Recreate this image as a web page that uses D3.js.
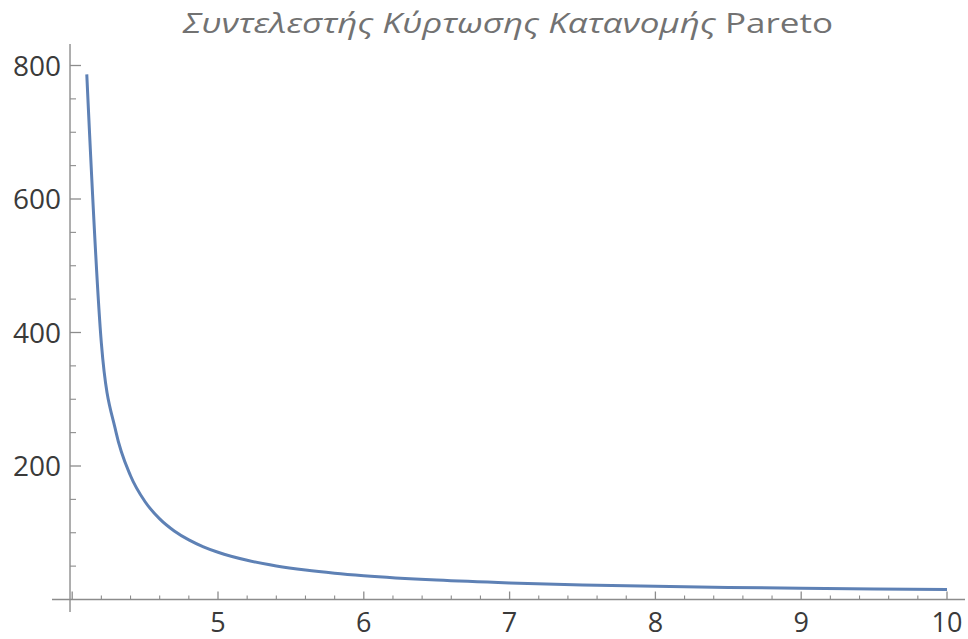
<!DOCTYPE html>
<html>
<head>
<meta charset="utf-8">
<script src="https://cdn.jsdelivr.net/npm/d3@7"></script>
<style>
  html, body { margin: 0; padding: 0; background: #fff; }
  svg { display: block; }
</style>
</head>
<body>
<svg id="chart" width="968" height="639"></svg>
<script>
// Shape parameter α and the excess kurtosis of the Pareto distribution
const alphaValues = [4.1, 4.2, 4.3, 4.4, 4.5, 4.6, 4.7, 4.8, 4.9, 5.0,
                     5.2, 5.4, 5.6, 5.8, 6.0, 6.5, 7.0, 7.5, 8.0, 8.5, 9.0, 9.5, 10.0];
const kurtosisValues = [786.7, 384.1, 251.2, 185.4, 146.4, 120.8, 102.7, 89.3, 78.95, 70.8,
                        58.76, 50.34, 44.14, 39.40, 35.67, 29.10, 24.86, 21.90, 19.73, 18.06, 16.76, 15.70, 14.83];
const xMajorTicks = [5, 6, 7, 8, 9, 10];
const yMajorTicks = [200, 400, 600, 800];
const titleGreek = "Συντελεστής Κύρτωσης Κατανομής";
const titleLatin = "Pareto";

const svg = d3.select("#chart");
const font = "'Open Sans', 'DejaVu Sans', sans-serif";
const axisColor = "#8c8c8c";
const labelColor = "#3a3a3a";

// scales: 4 → 72, 10 → 947 ; 0 → 599.5, 800 → 65.5
const x = d3.scaleLinear().domain([4, 10]).range([72.2, 947]);
const y = d3.scaleLinear().domain([0, 800]).range([599.5, 65.5]);

const axisX0 = x(3.985);

// axis lines
svg.append("line")
  .attr("x1", 52).attr("x2", 965)
  .attr("y1", y(0)).attr("y2", y(0))
  .attr("stroke", axisColor).attr("stroke-width", 1.4);
svg.append("line")
  .attr("x1", axisX0).attr("x2", axisX0)
  .attr("y1", 44).attr("y2", 612)
  .attr("stroke", axisColor).attr("stroke-width", 1.4);

// x ticks (major every 1, minor every 0.2)
const xMinor = d3.range(4, 10.001, 0.2).filter(v => Math.abs(v - Math.round(v)) > 1e-6);
svg.append("g").selectAll("line").data(xMinor).join("line")
  .attr("x1", d => x(d)).attr("x2", d => x(d))
  .attr("y1", y(0)).attr("y2", y(0) - 4)
  .attr("stroke", axisColor).attr("stroke-width", 1.1);
svg.append("g").selectAll("line").data([4].concat(xMajorTicks)).join("line")
  .attr("x1", d => x(d)).attr("x2", d => x(d))
  .attr("y1", y(0)).attr("y2", y(0) - 8)
  .attr("stroke", axisColor).attr("stroke-width", 1.3);
svg.append("g").selectAll("text").data(xMajorTicks).join("text")
  .attr("x", d => x(d)).attr("y", 632)
  .attr("text-anchor", "middle")
  .attr("font-family", font).attr("font-size", 27)
  .attr("fill", labelColor)
  .text(d => d);

// y ticks (major every 200, minor every 50)
const yMinor = d3.range(50, 801, 50).filter(v => v % 200 !== 0);
svg.append("g").selectAll("line").data(yMinor).join("line")
  .attr("x1", axisX0).attr("x2", axisX0 + 6)
  .attr("y1", d => y(d)).attr("y2", d => y(d))
  .attr("stroke", axisColor).attr("stroke-width", 1.1);
svg.append("g").selectAll("line").data(yMajorTicks).join("line")
  .attr("x1", axisX0).attr("x2", axisX0 + 11)
  .attr("y1", d => y(d)).attr("y2", d => y(d))
  .attr("stroke", axisColor).attr("stroke-width", 1.3);
svg.append("g").selectAll("text").data(yMajorTicks).join("text")
  .attr("x", 61).attr("y", d => y(d))
  .attr("dy", "0.36em")
  .attr("text-anchor", "end")
  .attr("font-family", font).attr("font-size", 28)
  .attr("fill", labelColor)
  .text(d => d);

// curve
const pts = alphaValues.map((a, i) => [a, kurtosisValues[i]]);
svg.append("path")
  .datum(pts)
  .attr("d", d3.line().x(d => x(d[0])).y(d => y(d[1])).curve(d3.curveMonotoneX))
  .attr("fill", "none")
  .attr("stroke", "#5e81b5")
  .attr("stroke-width", 3)
  .attr("stroke-linejoin", "round");

// title
const title = svg.append("text")
  .attr("x", 508).attr("y", 33)
  .attr("text-anchor", "middle")
  .attr("font-family", font).attr("font-size", 28)
  .attr("fill", "#727272")
  .attr("textLength", 650)
  .attr("lengthAdjust", "spacingAndGlyphs");
title.append("tspan").attr("font-style", "italic").text(titleGreek + " ");
title.append("tspan").text(titleLatin);
</script>
</body>
</html>
